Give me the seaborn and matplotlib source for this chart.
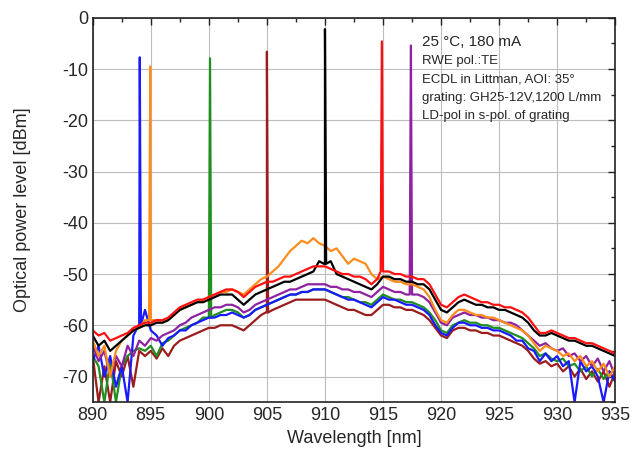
import numpy as np
import pandas as pd
import matplotlib.pyplot as plt
from matplotlib.ticker import MultipleLocator
import seaborn as sns

# wavelength grid for the broad background (nm), 0.5 nm steps
wl = np.arange(890, 935.01, 0.5)

# background levels (dBm)
bg_red = [-61, -62, -61.5, -63, -62.5, -62, -61.5, -60.5, -60, -59.5,
          -59.5, -59, -59, -58.5, -57.5, -56.5, -56, -55.5, -55, -55,
          -54.5, -54, -53.5, -53, -53, -53.5, -54.5, -53.5, -52.5, -52,
          -51.5, -51.5, -51, -50.5, -50.5, -50, -49.5, -49, -48.5, -48.5,
          -48.5, -49, -49.5, -50, -50, -50.5, -50.5, -51, -52, -51,
          -49.5, -49.5, -50, -50, -50.5, -50.5, -51, -51, -52, -54,
          -56, -56.5, -55.5, -54.5, -54, -54.5, -55, -55.5, -55.5, -56,
          -56, -56.5, -56.5, -57, -57.5, -58.5, -60, -61.5, -61.5, -61,
          -61.5, -62, -62.5, -62.5, -63, -63.5, -63.5, -64, -64.5, -65,
          -65.5]
bg_black = [-62, -64, -63, -65, -64, -63, -62, -61, -60.5, -60,
            -60, -59.5, -59.5, -59, -58, -57, -56.5, -56, -55.5, -55.5,
            -55, -54.5, -54, -54, -54, -55, -56, -55, -54, -53.5,
            -53, -52.5, -52, -51.5, -51.5, -51, -50.5, -50, -49.5, -47.5,
            -48, -47.5, -50, -50.5, -51, -51.5, -52, -52.5, -53, -52,
            -50.5, -50.5, -51, -51, -51.5, -51.5, -52, -52, -53, -55,
            -57, -57.5, -56.5, -55.5, -55, -55.5, -56, -56, -56.5, -56.5,
            -57, -57, -57.5, -58, -58.5, -59.5, -61, -62, -62, -61.5,
            -62, -62.5, -63, -63, -63.5, -64, -64, -64.5, -65, -65.5,
            -66]
bg_orange = [-63, -66, -64, -70, -65, -63, -62, -61, -60.5, -59,
             -59, -59, -59.5, -59, -58, -57, -56.5, -56, -55.5, -55,
             -54.5, -54, -53.5, -53.5, -53, -53.5, -54, -53, -52, -51,
             -50.5, -49.5, -48.5, -47, -45.5, -44.5, -43.5, -44, -43, -44,
             -44.5, -45.5, -45, -46.5, -48, -47, -47.5, -48, -50, -51,
             -50.5, -51, -51.5, -51.5, -52, -52, -52.5, -53, -54.5, -57,
             -59, -59.5, -58, -57, -57, -57.5, -58, -58, -58.5, -58.5,
             -59, -59.5, -60, -60.5, -61, -62, -63.5, -65, -64, -64.5,
             -65, -66, -65.5, -67, -66, -68, -67, -69, -67.5, -70,
             -68]
bg_purple = [-64, -67, -65, -70, -66, -68, -64, -66, -63, -64,
             -62.5, -63, -62, -61.5, -61, -60, -59.5, -58.5, -58, -57.5,
             -57, -56.5, -56.5, -56, -56, -56.5, -57.5, -57, -56, -55.5,
             -55, -54.5, -54, -53.5, -53, -53, -52.5, -52, -52, -52,
             -52, -52.5, -52.5, -53, -53, -53.5, -53.5, -54, -54.5, -53.5,
             -52.5, -53, -53.5, -53.5, -54, -54, -54, -54.5, -55.5, -57.5,
             -59.5, -60, -58.5, -58, -57.5, -58, -58, -58.5, -58.5, -59,
             -59, -59.5, -59.5, -60, -61, -62, -63, -64, -63.5, -64.5,
             -65, -64.5, -66, -65.5, -67, -66, -68, -66.5, -69, -67,
             -70]
bg_green = [-66, -68, -75, -67, -75, -68, -66, -65, -64.5, -65,
            -64, -66, -63.5, -63, -62, -61, -60.5, -60, -59.5, -58.5,
            -58.5, -58, -57.5, -57, -57, -57.5, -58.5, -58, -57, -56.5,
            -56, -55.5, -55, -54.5, -54, -54, -53.5, -53.5, -53, -53,
            -53, -53.5, -54, -54.5, -54.5, -55, -55.5, -55.5, -56, -55,
            -54, -54.5, -55, -55, -55.5, -55.5, -56, -56.5, -57.5, -59,
            -61, -61.5, -60, -59.5, -59, -59.5, -59.5, -60, -60, -60.5,
            -60.5, -61, -61.5, -62, -62.5, -63.5, -64.5, -66, -65.5, -66.5,
            -67, -66.5, -68, -67.5, -69, -68, -70, -68.5, -70.5, -69,
            -71]
bg_blue = [-67, -64, -70, -66, -72, -68, -75, -62, -60, -57,
           -61, -62, -64, -62.5, -62, -61, -61, -60, -59.5, -59,
           -58.5, -58.5, -58, -58, -57.5, -58, -58.5, -58, -57, -56.5,
           -56, -55.5, -55, -54.5, -54, -54, -53.5, -53.5, -53, -53,
           -53, -53.5, -54, -54.5, -55, -55, -55.5, -56, -56.5, -55.5,
           -54.5, -55, -55, -55.5, -56, -56, -56.5, -57, -58, -60,
           -61.5, -62, -60.5, -59.5, -59.5, -60, -60, -60.5, -60.5, -61,
           -61, -61.5, -62, -63, -63, -64.5, -65, -67, -65.5, -67,
           -66, -68, -67, -75, -67, -69, -68, -70, -75, -69,
           -71]
bg_brown = [-66, -75, -68, -75, -67, -70, -66, -72, -65, -66,
            -65, -66.5, -64.5, -66, -64, -63, -62.5, -62, -61.5, -61,
            -60.5, -60.5, -60, -60, -60, -60.5, -61, -60, -59, -58,
            -57.5, -57, -56.5, -56, -55.5, -55, -55, -55, -55, -55,
            -55, -55.5, -56, -56.5, -57, -57, -57.5, -58, -58, -57,
            -56, -56, -56.5, -56.5, -57, -57, -57.5, -58, -59, -60.5,
            -62, -62.5, -61, -60.5, -60.5, -61, -61, -61.5, -61.5, -62,
            -62, -62.5, -63, -63.5, -64, -65, -66.5, -67.5, -67, -68,
            -67.5, -69, -68, -70, -68.5, -70.5, -69, -71, -69, -72,
            -69]

# laser lines: centre wavelength (nm) and peak level (dBm)
traces = ['brown', 'green', 'blue', 'purple', 'orange', 'black', 'red']
backgrounds = [bg_brown, bg_green, bg_blue, bg_purple, bg_orange, bg_black, bg_red]
peak_nm = [905.0, 900.1, 894.05, 917.4, 894.95, 910.0, 914.9]
peak_dbm = [-6.6, -7.9, -7.7, -5.4, -9.5, -2.2, -4.6]
colors = ['#9b1c1c', '#1f8f1f', '#1a1aff', '#8e22a0', '#ff8c1a', '#000000', '#ff1010']

rows = []
for name, bg, c, top in zip(traces, backgrounds, peak_nm, peak_dbm):
    bg = np.asarray(bg, dtype=float)
    base = bg[np.argmin(np.abs(wl - c))]
    xs = np.concatenate([wl, [c - 0.1, c, c + 0.1]])
    ys = np.concatenate([bg, [base, top, base]])
    rows.append(pd.DataFrame({'trace': name, 'wl': xs, 'dbm': ys}))
df = pd.concat(rows, ignore_index=True)

sns.set_theme(style='white')
plt.rcParams['font.family'] = ['Liberation Sans', 'DejaVu Sans']
plt.rcParams['axes.unicode_minus'] = False

fig = plt.figure(figsize=(6.31, 4.58), dpi=100)
ax = fig.add_axes([0.147, 0.122, 0.828, 0.839])

sns.lineplot(data=df, x='wl', y='dbm', hue='trace', hue_order=traces,
             palette=dict(zip(traces, colors)), estimator=None, sort=True,
             lw=1.6, legend=False, ax=ax)

ax.set_xlim(890, 935)
ax.set_ylim(-75, 0)
ax.xaxis.set_major_locator(MultipleLocator(5))
ax.xaxis.set_minor_locator(MultipleLocator(2.5))
ax.yaxis.set_major_locator(MultipleLocator(10))
ax.yaxis.set_minor_locator(MultipleLocator(5))
ax.grid(True, which='major', color='#bdbdbd', lw=0.8)
ax.set_axisbelow(True)
ax.tick_params(which='both', direction='in', top=True, right=True,
               labelsize=13, color='#222222')
ax.tick_params(which='major', length=5, width=1)
ax.tick_params(which='minor', length=3, width=1)
for s in ax.spines.values():
    s.set_color('#222222')
    s.set_linewidth(1.2)

ax.set_xlabel('Wavelength [nm]', fontsize=13)
ax.set_ylabel('Optical power level [dBm]', fontsize=13)
ax.yaxis.set_label_coords(-0.118, 0.5)

ax.text(918.4, -4.7, '25 °C, 180 mA', fontsize=11, va='center')
notes = ['RWE pol.:TE', 'ECDL in Littman, AOI: 35°',
         'grating: GH25-12V,1200 L/mm', 'LD-pol in s-pol. of grating']
for i, t in enumerate(notes):
    ax.text(918.4, -8.4 - 3.6 * i, t, fontsize=9.5, va='center')

fig.savefig('out.png', dpi=100)
